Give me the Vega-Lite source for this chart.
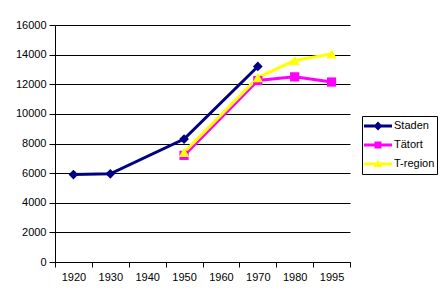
{
  "$schema": "https://vega.github.io/schema/vega-lite/v6.json",
  "width": 295,
  "height": 237,
  "autosize": {"type": "none"},
  "padding": {"left": 55, "top": 25, "right": 98, "bottom": 42},
  "background": "white",
  "config": {"view": {"stroke": null}, "font": "Liberation Sans"},
  "data": {
    "values": [
      {"series": "Staden", "year": "1920", "value": 5900},
      {"series": "Staden", "year": "1930", "value": 5950},
      {"series": "Staden", "year": "1950", "value": 8300},
      {"series": "Staden", "year": "1970", "value": 13200},
      {"series": "Tätort", "year": "1950", "value": 7200},
      {"series": "Tätort", "year": "1970", "value": 12250},
      {"series": "Tätort", "year": "1980", "value": 12500},
      {"series": "Tätort", "year": "1995", "value": 12150},
      {"series": "T-region", "year": "1950", "value": 7400},
      {"series": "T-region", "year": "1970", "value": 12450},
      {"series": "T-region", "year": "1980", "value": 13600},
      {"series": "T-region", "year": "1995", "value": 14050}
    ]
  },
  "encoding": {
    "x": {
      "field": "year",
      "type": "ordinal",
      "scale": {"domain": ["1920", "1930", "1940", "1950", "1960", "1970", "1980", "1995"], "paddingInner": 0, "paddingOuter": 0},
      "axis": {
        "title": null, "labelAngle": 0, "tickBand": "extent", "grid": false, "orient": "bottom",
        "domainColor": "black", "tickColor": "black", "tickSize": 5,
        "labelPadding": 4, "labelFontSize": 11, "labelColor": "black", "labelFont": "Liberation Sans"
      }
    },
    "y": {
      "field": "value",
      "type": "quantitative",
      "scale": {"domain": [0, 16000], "nice": false},
      "axis": {
        "title": null, "values": [0, 2000, 4000, 6000, 8000, 10000, 12000, 14000, 16000], "format": "d",
        "grid": true, "gridColor": "black", "gridOpacity": 1,
        "domainColor": "black", "tickColor": "black", "tickSize": 6,
        "labelPadding": 3, "labelFontSize": 11, "labelColor": "black", "labelFont": "Liberation Sans"
      }
    }
  },
  "layer": [
    {
      "mark": {"type": "line", "strokeWidth": 3},
      "encoding": {
        "color": {
          "field": "series",
          "type": "nominal",
          "scale": {"domain": ["Staden", "Tätort", "T-region"], "range": ["#000080", "#FF00FF", "#FFFF00"]},
          "legend": {
            "title": null, "orient": "none", "legendX": 307, "legendY": 91,
            "strokeColor": "black", "fillColor": "white", "padding": 2,
            "clipHeight": 16, "rowPadding": 3, "symbolSize": 784,
            "labelFontSize": 11, "labelColor": "black", "labelFont": "Liberation Sans", "labelOffset": 2,
            "encode": {
              "symbols": {
                "update": {
                  "shape": {"signal": "datum.value === 'Staden' ? 'M-1,-0.1L1,-0.1L1,0.1L-1,0.1Z M0,-0.32L0.32,0L0,0.32L-0.32,0Z' : (datum.value === 'Tätort' ? 'M-1,-0.1L1,-0.1L1,0.1L-1,0.1Z M-0.25,-0.25L0.25,-0.25L0.25,0.25L-0.25,0.25Z' : 'M-1,-0.1L1,-0.1L1,0.1L-1,0.1Z M0,-0.3L0.3,0.22L-0.3,0.22Z')"},
                  "fill": {"scale": "color", "field": "value"},
                  "fillOpacity": {"value": 1},
                  "opacity": {"value": 1},
                  "strokeWidth": {"value": 0},
                  "size": {"value": 784}
                }
              }
            }
          }
        }
      }
    },
    {
      "transform": [{"filter": "datum.series === 'Staden'"}],
      "mark": {"type": "point", "filled": true, "opacity": 1, "size": 95, "shape": "diamond", "color": "#000080"}
    },
    {
      "transform": [{"filter": "datum.series === 'Tätort'"}],
      "mark": {"type": "point", "filled": true, "opacity": 1, "size": 85, "shape": "square", "color": "#FF00FF"}
    },
    {
      "transform": [{"filter": "datum.series === 'T-region'"}],
      "mark": {"type": "point", "filled": true, "opacity": 1, "size": 110, "shape": "triangle-up", "color": "#FFFF00"}
    }
  ]
}
